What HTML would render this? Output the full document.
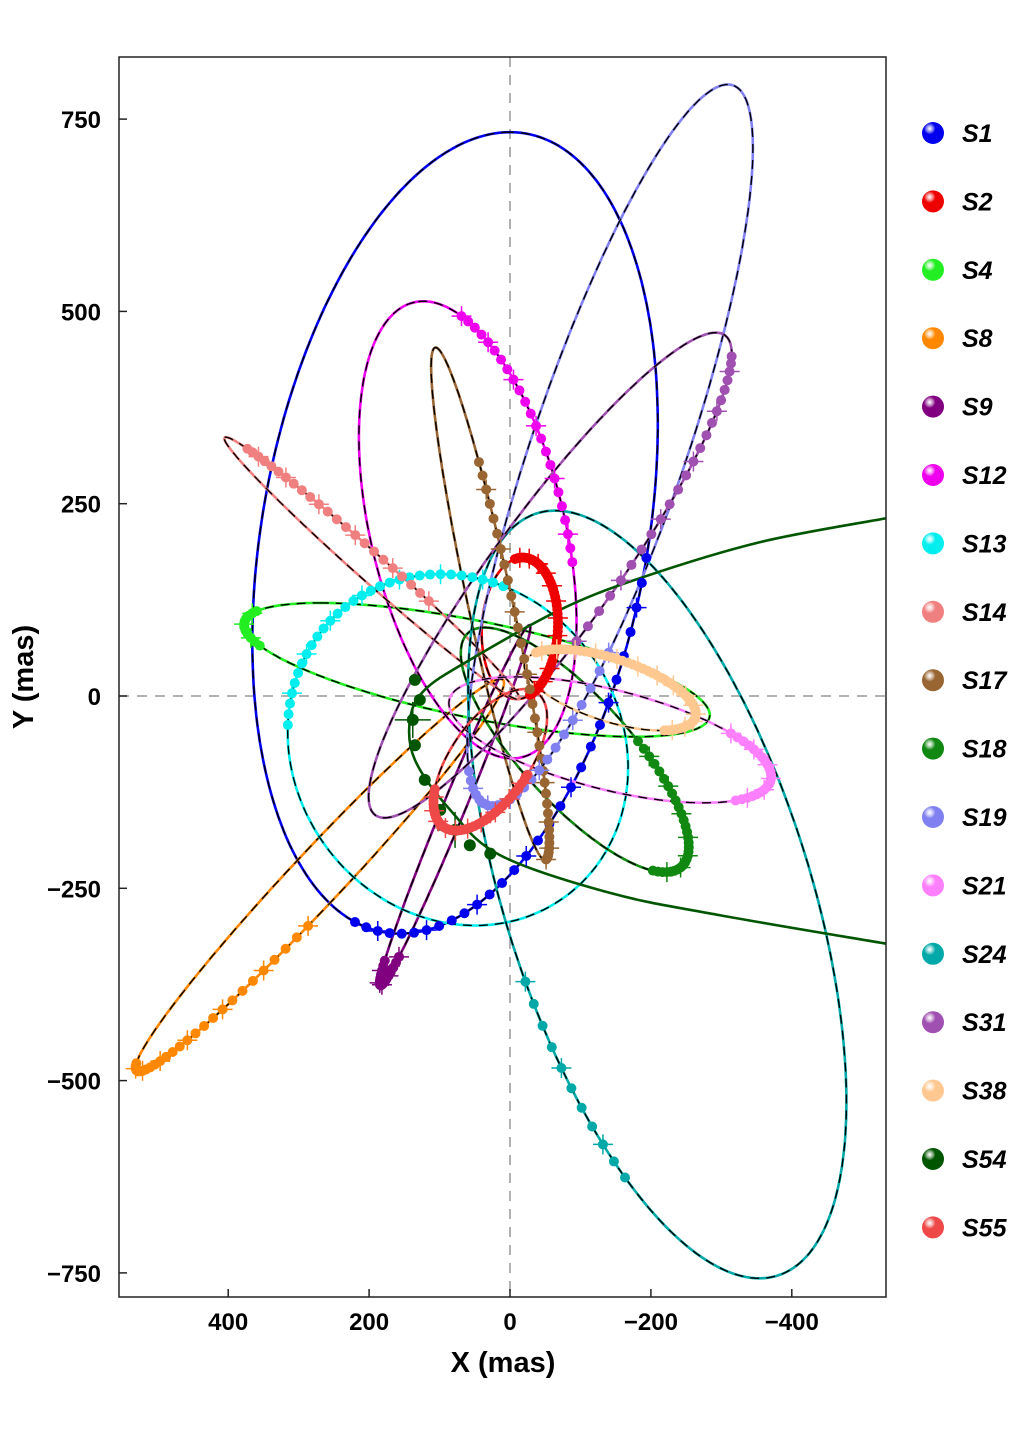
<!DOCTYPE html>
<html><head><meta charset="utf-8">
<style>
body{margin:0;background:#fff;}
svg{display:block;font-family:"Liberation Sans",Arial,sans-serif;}
</style></head>
<body>
<svg id="chart" width="1024" height="1439" viewBox="0 0 1024 1439">
<defs id="defs"></defs>
<clipPath id="plotclip"><rect x="119" y="57" width="767" height="1240"/></clipPath>
<g id="grid"></g>
<g id="orbits" clip-path="url(#plotclip)"></g>
<g id="dots" clip-path="url(#plotclip)"></g>
<rect x="119" y="57" width="767" height="1240" fill="none" stroke="#222" stroke-width="1.5"/>
<g id="axes"></g>
<g id="legend"></g>
<text x="503" y="1372" text-anchor="middle" font-size="29" font-weight="bold">X (mas)</text>
<text x="0" y="0" transform="translate(33,677) rotate(-90)" text-anchor="middle" font-size="29" font-weight="bold">Y (mas)</text>
</svg>
<script>
// ---- data (mas) ----
const stars   = ['S1','S2','S4','S8','S9','S12','S13','S14','S17','S18','S19','S21','S24','S31','S38','S54','S55'];
const colors  = ['#0000ee','#ee0000','#22ee22','#ff8800','#800080','#ee00ee','#00eeee','#f08080','#996633','#118811','#8080f0','#ff80ff','#00a8a8','#a050b0','#ffc890','#005500','#ee4848'];
// ellipse: centre, two conjugate semi-diameter vectors U, V
const centerX = [78,-14,47,270,78,60,74,196,28,-92,-142,-142,-209,-57,-142,null,28];
const centerY = [212,88,34,-233,-142,216,-70,166,120,-70,326,-57,-258,157,8,null,-83];
const uX      = [-78,-4,223,260,106,75,-17,209,78,128,-167,-227,145,-248,-121,null,57];
const uY      = [521,92,87,-254,-234,296,225,170,333,159,469,-39,499,312,-26,null,-91];
const vX      = [277,54,-244,-28,-14,135,241,-14,-31,-99,115,28,-226,-70,14,null,-57];
const vY      = [0,0,0,-23,-7,-26,39,13,5,0,0,72,0,-46,46,null,-13];
// observed arc (parameter range) per star
const obsStart= [2.9,-2.8,-1.2,-0.2,-0.5,-1.8,-0.2,0.5,1.0,1.5,2.7,-0.8,-2.4,0.3,-1,0,-1];
const obsEnd  = [4.65,0.2,-0.5,1.4,0.6,-0.45,1.6,1.9,3.1,3.3,4.1,0.6,-1.8,1.7,2.5,0,1.5];
// S54 open orbit samples
const s54X = [-534,-298,-142,14,85,135,142,121,57,-71,-184,-355,-534];
const s54Y = [-322,-285,-256,-207,-148,-83,-31,8,47,112,153,200,231];
const s54ObsX = [135,128,138,135,121,99,78,57,28];
const s54ObsY = [21,-5,-31,-64,-109,-148,-174,-194,-205];
const xTicks = [400,200,0,-200,-400];
const yTicks = [750,500,250,0,-250,-500,-750];

// ---- axes ----
const X = v => 510 - v*0.7045;
const Y = v => 696 - v*0.7692;
const NS='http://www.w3.org/2000/svg';
function mk(tag,attrs,parent){const e=document.createElementNS(NS,tag);for(const k in attrs)e.setAttribute(k,attrs[k]);parent.appendChild(e);return e;}

const grid=document.getElementById('grid');
let gl=mk('line',{x1:X(0),y1:57,x2:X(0),y2:1297,stroke:'#999','stroke-width':1.5,'stroke-dasharray':'10,8'},grid);


gl=mk('line',{x1:119,y1:Y(0),x2:886,y2:Y(0),stroke:'#999','stroke-width':1.5,'stroke-dasharray':'10,8'},grid);



const axes=document.getElementById('axes');
xTicks.forEach(t=>{
  const l=mk('line',{x1:X(t),y1:1297,x2:X(t),y2:1289,stroke:'#222','stroke-width':1.5},axes);
  
  
  const tx=mk('text',{x:X(t),y:1330,'text-anchor':'middle','font-size':24,'font-weight':'bold'},axes);
  tx.textContent=(t<0?'\u2212'+(-t):t);
  
  
});
yTicks.forEach(t=>{
  const l=mk('line',{x1:119,y1:Y(t),x2:127,y2:Y(t),stroke:'#222','stroke-width':1.5},axes);
  
  
  const tx=mk('text',{x:101,y:Y(t)+9,'text-anchor':'end','font-size':24,'font-weight':'bold'},axes);
  tx.textContent=(t<0?'\u2212'+(-t):t);
  
  
});

// ---- orbits ----
const og=document.getElementById('orbits');
const dg=document.getElementById('dots');
function ept(i,t){return [X(centerX[i]+uX[i]*Math.cos(t)+vX[i]*Math.sin(t)), Y(centerY[i]+uY[i]*Math.cos(t)+vY[i]*Math.sin(t))];}
function catmull(px,py){
  let d='M'+px[0]+','+py[0];
  for(let i=0;i<px.length-1;i++){
    const i0=Math.max(i-1,0),i3=Math.min(i+2,px.length-1);
    const c1x=px[i]+(px[i+1]-px[i0])/6,c1y=py[i]+(py[i+1]-py[i0])/6;
    const c2x=px[i+1]-(px[i3]-px[i])/6,c2y=py[i+1]-(py[i3]-py[i])/6;
    d+=' C'+c1x+','+c1y+' '+c2x+','+c2y+' '+px[i+1]+','+py[i+1];
  }
  return d;
}
stars.forEach((s,i)=>{
  let d;
  if(centerX[i]===null){
    d=catmull(s54X.map(X),s54Y.map(Y));
  } else {
    d='';
    for(let k=0;k<=240;k++){const p=ept(i,k/240*2*Math.PI);d+=(k?'L':'M')+p[0].toFixed(1)+','+p[1].toFixed(1);}
    d+='Z';
  }
  const line=mk('path',{d:d,fill:'none',stroke:colors[i],'stroke-width':2.6},og);
  
  
  if(s!=='S54'){
    const dash=mk('path',{d:d,fill:'none',stroke:'#000','stroke-width':1.4,'stroke-dasharray':'9,7'},og);
    
    
  }
});
stars.forEach((s,i)=>{
  let pts=[];
  if(centerX[i]===null){
    pts=s54ObsX.map((x,k)=>[X(x),Y(s54ObsY[k])]);
  } else {
    const n=Math.max(8,Math.round(Math.abs(obsEnd[i]-obsStart[i])*16));
    for(let k=0;k<=n;k++){pts.push(ept(i,obsStart[i]+(obsEnd[i]-obsStart[i])*k/n));}
  }
  pts.forEach((p,k)=>{
    const c=mk('circle',{cx:p[0],cy:p[1],r:s==='S54'?6:5,fill:colors[i]},dg);
    
    
    if(k%4===2){
      const L=s==='S54'?18:10;
      const e=mk('path',{d:`M${p[0]-L},${p[1]}h${2*L}M${p[0]},${p[1]-L}v${2*L}`,stroke:colors[i],'stroke-width':1.5},dg);
      
      
    }
  });
});

// ---- legend ----
const defs=document.getElementById('defs');
const lg=document.getElementById('legend');
stars.forEach((s,i)=>{
  const g=mk('radialGradient',{id:'g'+i,cx:'0.35',cy:'0.3',r:'0.75'},defs);
  mk('stop',{offset:'0','stop-color':'#fff','stop-opacity':'0.7'},g);
  mk('stop',{offset:'0.35','stop-color':colors[i]},g);
  mk('stop',{offset:'1','stop-color':colors[i]},g);
  const y=133+i*68.4;
  const c=mk('circle',{cx:933,cy:y,r:11,fill:'url(#g'+i+')'},lg);
  
  
  const t=mk('text',{x:962,y:y+9,'font-size':25,'font-weight':'bold','font-style':'italic'},lg);
  t.textContent=s;
  
  
});
</script>
</body></html>
